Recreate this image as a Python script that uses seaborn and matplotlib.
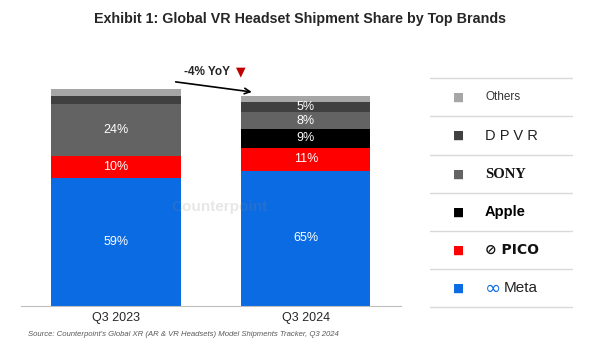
import matplotlib.pyplot as plt
import seaborn as sns
import pandas as pd

quarters = ['Q3 2023', 'Q3 2024']
totals = [100, 96]  # relative shipment volume (2024 is -4% YoY)
brands = ['Meta', 'PICO', 'Apple', 'SONY', 'DPVR', 'Others']
share_2023 = [59, 10, 0, 24, 4, 3]
share_2024 = [65, 11, 9, 8, 5, 3]
labels_2023 = ['59%', '10%', '', '24%', '', '']
labels_2024 = ['65%', '11%', '9%', '8%', '5%', '']
colors = ['#0a6be3', '#ff0000', '#000000', '#636363', '#404040', '#a6a6a6']

sns.set_style('white')
plt.rcParams['font.family'] = ['Liberation Sans', 'DejaVu Sans']

rows = []
for q, tot, shares, labs in [(quarters[0], totals[0], share_2023, labels_2023),
                             (quarters[1], totals[1], share_2024, labels_2024)]:
    bottom = 0
    for b, s, l in zip(brands, shares, labs):
        h = s * tot / 100
        rows.append({'quarter': q, 'brand': b, 'height': h, 'bottom': bottom, 'label': l})
        bottom += h
df = pd.DataFrame(rows)

fig = plt.figure(figsize=(6, 3.53), dpi=100)
ax = fig.add_axes([0.035, 0.133, 0.633, 0.70])

for b, c in zip(brands, colors):
    sub = df[df['brand'] == b]
    sns.barplot(data=sub, x='quarter', y='height', order=quarters, color=c,
                bottom=sub['bottom'].values, width=0.68, ax=ax,
                saturation=1, linewidth=0)

for _, r in df.iterrows():
    if r['label']:
        xi = quarters.index(r['quarter'])
        ax.text(xi, r['bottom'] + r['height'] / 2, r['label'], color='white',
                ha='center', va='center', fontsize=9)

ax.set_xlim(-0.5, 1.5)
ax.set_ylim(0, 113.9)
ax.set_xlabel('')
ax.set_ylabel('')
ax.set_yticks([])
for s in ['top', 'right', 'left']:
    ax.spines[s].set_visible(False)
ax.spines['bottom'].set_color('#bfbfbf')
ax.tick_params(axis='x', which='major', length=0, labelsize=9, pad=4)
ax.set_xticks([-0.5, 0.5, 1.5], minor=True)
ax.tick_params(axis='x', which='minor', length=4, color='#bfbfbf', direction='out')

# YoY annotation
ax.annotate('', xy=(0.73, 98.5), xytext=(0.3, 103.5),
            arrowprops=dict(arrowstyle='->', color='black', lw=1.2))
ax.text(0.48, 108, '-4% YoY', fontsize=8.5, fontweight='bold', ha='center', va='center')
ax.text(0.655, 108, '▼', fontsize=9, color='#c00000', ha='center', va='center',
        family=['DejaVu Sans'])

# watermark
fig.text(0.365, 0.415, 'Counterpoint', fontsize=11, fontweight='bold',
         color='#888888', alpha=0.2, ha='center', va='center')

fig.suptitle('Exhibit 1: Global VR Headset Shipment Share by Top Brands',
             x=0.5, y=0.965, fontsize=10.3, fontweight='bold')

# legend panel
lx0, lx1 = 430 / 600, 572 / 600
lines_y = [78, 116, 155, 193, 231, 269, 307]
for yy in lines_y:
    fig.add_artist(plt.Line2D([lx0, lx1], [1 - yy / 353] * 2, color='#d9d9d9', lw=1))
leg_items = list(zip(brands, colors))[::-1]
for i, (b, c) in enumerate(leg_items):
    yc = 1 - (lines_y[i] + lines_y[i + 1]) / 2 / 353
    fig.text(459 / 600, yc, '■', color=c, fontsize=8.5, ha='center', va='center',
             family=['DejaVu Sans'])
    tx = 485 / 600
    if b == 'Others':
        fig.text(tx, yc, 'Others', fontsize=8.5, color='#333333', va='center')
    elif b == 'DPVR':
        fig.text(tx, yc, 'D P V R', fontsize=10.5, color='#222222', va='center')
    elif b == 'SONY':
        fig.text(tx, yc, 'SONY', fontsize=10.5, fontweight='bold', color='#111111',
                 va='center', family=['Liberation Serif', 'DejaVu Serif'])
    elif b == 'Apple':
        fig.text(tx, yc, 'Apple', fontsize=10.5, fontweight='bold', color='black', va='center')
    elif b == 'PICO':
        fig.text(tx, yc, '⊘ PICO', fontsize=10, fontweight='bold', color='#111111',
                 va='center', family=['DejaVu Sans'])
    else:
        fig.text(tx, yc, '∞', fontsize=14, color='#0a6be3', va='center',
                 family=['DejaVu Sans'])
        fig.text(tx + 19 / 600, yc, 'Meta', fontsize=11, color='#222222', va='center')

fig.text(28 / 600, 1 - 335 / 353,
         "Source: Counterpoint's Global XR (AR & VR Headsets) Model Shipments Tracker, Q3 2024",
         fontsize=5.6, style='italic', color='#595959', va='center')

plt.savefig('out.png', dpi=100)
